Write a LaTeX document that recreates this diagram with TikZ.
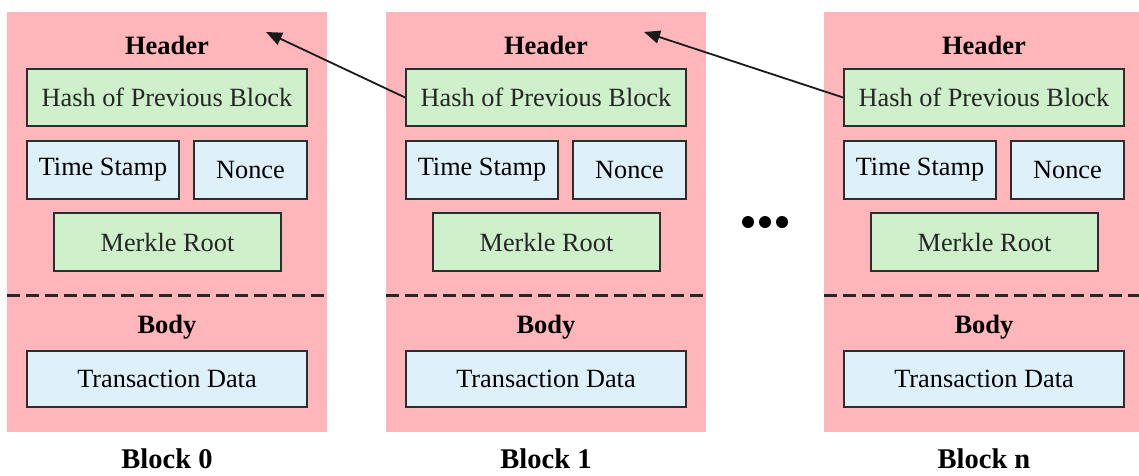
\documentclass[tikz,border=0pt]{standalone}
\usepackage{fontspec}
\setmainfont{Liberation Serif}
\usetikzlibrary{arrows.meta}
\definecolor{blockpink}{RGB}{255,182,186}
\definecolor{hashgreen}{RGB}{206,240,202}
\definecolor{fieldblue}{RGB}{222,241,250}
\definecolor{edgegray}{RGB}{45,45,45}
\tikzset{
  blockbg/.style={rectangle, fill=blockpink, draw=none, minimum width=320pt, minimum height=420pt, inner sep=0pt},
  greenbox/.style={rectangle, fill=hashgreen, draw=edgegray, line width=1.8pt, inner sep=0pt, font=\fontsize{26.3}{30}\selectfont, text=black!85},
  bluebox/.style={rectangle, fill=fieldblue, draw=edgegray, line width=1.8pt, inner sep=0pt, font=\fontsize{26.3}{30}\selectfont, text=black},
  sectitle/.style={font=\fontsize{26.5}{30}\selectfont\bfseries, inner sep=0pt},
  blocklabel/.style={font=\fontsize{28.5}{32}\selectfont\bfseries, inner sep=0pt},
  separator/.style={dashed, dash pattern=on 13pt off 6pt, line width=3pt, draw=black!85},
  linkarrow/.style={draw=black!90, line width=1.8pt, -{Triangle[length=16pt,width=13pt]}},
  dot/.style={circle, fill=black, inner sep=0pt, minimum size=12pt}
}
\begin{document}
\begin{tikzpicture}[x=1pt,y=1pt]
\useasboundingbox (0,0) rectangle (1139,-475);
\foreach \x/\n/\lbl in {7/b0/Block 0, 386/b1/Block 1, 824/bn/Block n}{
  \node[blockbg] (\n-bg) at (\x+160,-222) {};
  \node[sectitle] (\n-header) at (\x+160,-45) {Header};
  \node[greenbox, minimum width=280pt, minimum height=57pt] (\n-hash) at (\x+160,-97.5) {Hash of Previous Block};
  \node[bluebox, minimum width=152pt, minimum height=58pt] (\n-time) at (\x+96,-170) {Time Stamp};
  \node[bluebox, minimum width=113pt, minimum height=58pt] (\n-nonce) at (\x+243.5,-170) {Nonce};
  \node[greenbox, minimum width=227pt, minimum height=58pt] (\n-merkle) at (\x+160.5,-242) {Merkle Root};
  \coordinate (\n-sepl) at (\x,-295);
  \coordinate (\n-sepr) at (\x+320,-295);
  \draw[separator] (\n-sepl) -- (\n-sepr);
  \node[sectitle] (\n-body) at (\x+160,-327) {Body};
  \node[bluebox, minimum width=280pt, minimum height=56pt] (\n-tx) at (\x+160,-379) {Transaction Data};
  \node[blocklabel] (\n-label) at (\x+160,-459) {\lbl};
}
\node[dot] (d1) at (748,-222) {};
\node[dot] (d2) at (765,-222) {};
\node[dot] (d3) at (782,-222) {};
\coordinate (t0) at (266,-32);
\coordinate (t1) at (644,-32);
\draw[linkarrow] (b1-hash.west) -- (t0);
\draw[linkarrow] (bn-hash.west) -- (t1);
\end{tikzpicture}
\end{document}
